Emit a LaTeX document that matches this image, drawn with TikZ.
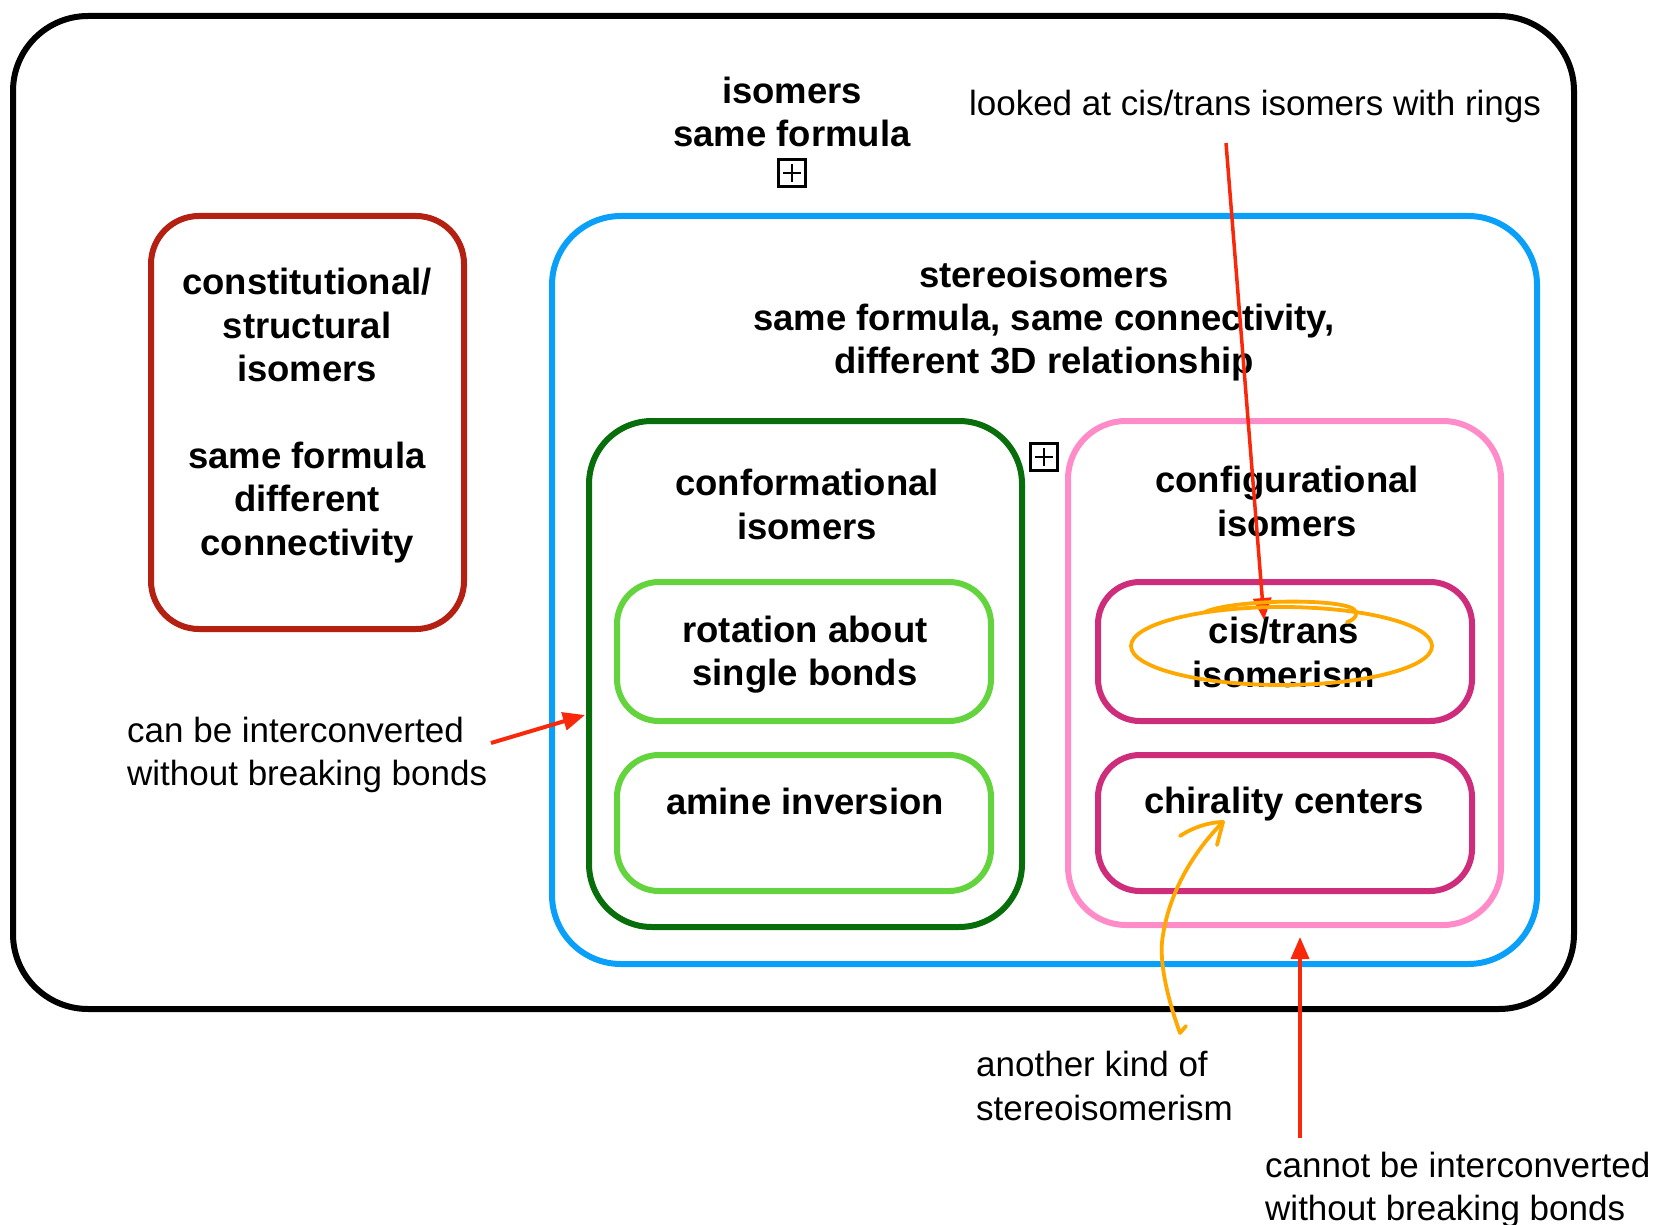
\documentclass[tikz,border=0pt]{standalone}
\usepackage{fontspec}
\setmainfont{Liberation Sans}
\usetikzlibrary{arrows.meta}
\definecolor{conred}{RGB}{180,32,18}
\definecolor{stereoblue}{RGB}{10,160,250}
\definecolor{darkgreen}{RGB}{8,110,12}
\definecolor{lightgreen}{RGB}{100,212,62}
\definecolor{cfgpink}{RGB}{255,140,200}
\definecolor{cfgmagenta}{RGB}{205,45,122}
\definecolor{notered}{RGB}{250,40,10}
\definecolor{noteorange}{RGB}{255,168,0}
\tikzset{
  box/.style={draw, rectangle, inner sep=0pt, line width=6pt},
  boldtext/.style={font=\fontsize{36.5}{43.4}\selectfont\bfseries, align=center, inner sep=0pt},
  notetext/.style={font=\fontsize{35}{43.4}\selectfont, align=left, inner sep=0pt},
  plusbox/.style={draw, line width=2.6pt, minimum size=27pt, inner sep=0pt},
  redarrow/.style={draw=notered, line width=3.5pt, -{Triangle[length=22pt,width=18pt]}},
  orangestroke/.style={draw=noteorange, line width=3.8pt, line cap=round, line join=round},
}
\begin{document}
\begin{tikzpicture}[x=1pt, y=-1pt]
\path[use as bounding box] (0,0) rectangle (1660,1225);

% outer frame: all isomers
\node[box, draw=black, rounded corners=75pt, minimum width=1561pt, minimum height=993pt] (outer) at (793.5,512.5) {};
\node[boldtext] (isomers) at (792,112) {isomers\\same formula};
\node[plusbox] (plusA) at (792,173) {};
\draw[line width=2.6pt] (plusA.center) +(-9,0) -- +(9,0);
\draw[line width=2.6pt] (plusA.center) +(0,-9) -- +(0,9);

% constitutional isomers
\node[box, draw=conred, rounded corners=48pt, minimum width=313pt, minimum height=413pt] (constit) at (307.5,422.5) {};
\node[boldtext] (constitText) at (307,415.5) {constitutional/\\structural\\isomers\\[43.4pt]same formula\\different\\connectivity};

% stereoisomers
\node[box, draw=stereoblue, rounded corners=69pt, minimum width=985pt, minimum height=748pt] (stereo) at (1044.5,590) {};
\node[boldtext] (stereoText) at (1044,321) {stereoisomers\\same formula, same connectivity,\\different 3D relationship};
\node[plusbox] (plusB) at (1044,457) {};
\draw[line width=2.6pt] (plusB.center) +(-9,0) -- +(9,0);
\draw[line width=2.6pt] (plusB.center) +(0,-9) -- +(0,9);

% conformational isomers
\node[box, draw=darkgreen, rounded corners=63pt, minimum width=433pt, minimum height=506pt] (conf) at (805.5,674) {};
\node[boldtext] (confText) at (807,504.5) {conformational\\isomers};
\node[box, draw=lightgreen, rounded corners=42pt, minimum width=374pt, minimum height=139pt] (rotation) at (804,651.5) {};
\node[boldtext] (rotationText) at (805,654.5) {rotation about\\single bonds};
\node[box, draw=lightgreen, rounded corners=42pt, minimum width=374pt, minimum height=136pt] (amine) at (804,823) {};
\node[boldtext] (amineText) at (805,801) {amine inversion};

% configurational isomers
\node[box, draw=cfgpink, rounded corners=58pt, minimum width=433pt, minimum height=504pt] (config) at (1284.5,673) {};
\node[boldtext] (configText) at (1287,501.5) {configurational\\isomers};
\node[box, draw=cfgmagenta, rounded corners=42pt, minimum width=374pt, minimum height=139pt] (cistrans) at (1285,651.5) {};
\node[boldtext] (cistransText) at (1284,652.5) {cis/trans\\isomerism};
\node[box, draw=cfgmagenta, rounded corners=42pt, minimum width=374pt, minimum height=136pt] (chiral) at (1285,823) {};
\node[boldtext] (chiralText) at (1284,804) {chirality centers};

% annotations
\node[notetext, anchor=center] (ringsNote) at (1255,106) {looked at cis/trans isomers with rings};
\node[notetext, anchor=west] (convNote) at (127,755) {can be interconverted\\without breaking bonds};
\node[notetext, anchor=west] (kindNote) at (976,1086) {another kind of\\stereoisomerism};
\node[notetext, anchor=west] (noconvNote) at (1265,1190) {cannot be interconverted\\without breaking bonds};

% annotation arrows
\coordinate (ringsStart) at (1226,143);
\coordinate (ringsTip) at (1264,620);
\draw[redarrow] (ringsStart) -- (ringsTip);

\coordinate (convStart) at (491,743);
\coordinate (convTip) at (585,715);
\draw[redarrow, line width=4pt] (convStart) -- (convTip);

\coordinate (noconvStart) at (1300,1138);
\coordinate (noconvTip) at (1300,937);
\draw[redarrow] (noconvStart) -- (noconvTip);

% hand-drawn circle around cis/trans
\coordinate (ringMark) at (1281.5,646);
\draw[orangestroke] (ringMark) ellipse [x radius=150.5, y radius=39];
\draw[orangestroke] (1205,612) .. controls (1232,600) and (1330,598) .. (1352,608)
  .. controls (1359,612) and (1357,619) .. (1347,622);

% hand-drawn arrow from note to chirality centers
\coordinate (kindStart) at (1180,1033);
\coordinate (kindTip) at (1223,822);
\draw[orangestroke] (kindStart) .. controls (1168,1000) and (1158,960) .. (1163,935)
  .. controls (1170,890) and (1195,850) .. (kindTip);
\draw[orangestroke] (1180,836) .. controls (1195,826) and (1212,822) .. (kindTip) -- (1217,845);
\draw[orangestroke] (kindStart) -- (1186,1026);
\end{tikzpicture}
\end{document}
